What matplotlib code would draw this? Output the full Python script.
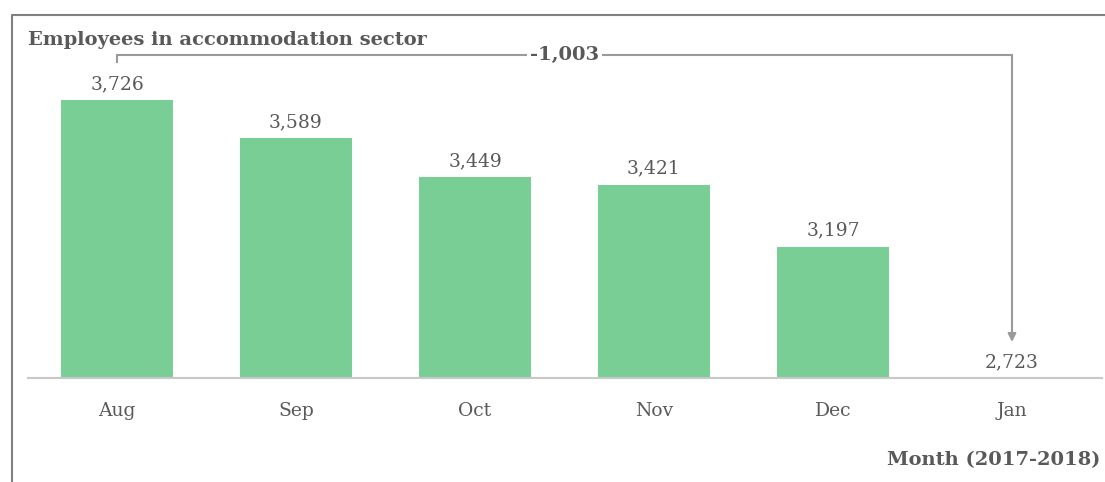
import matplotlib.pyplot as plt
from matplotlib.lines import Line2D

months = ["Aug", "Sep", "Oct", "Nov", "Dec", "Jan"]
employees = [3726, 3589, 3449, 3421, 3197, 2723]
change_label = "-1,003"

bar_col = "#79CE96"
txt_col = "#595959"
line_col = "#9a9a9a"

plt.rcParams["font.family"] = ["DejaVu Serif"]

fig = plt.figure(figsize=(11.05, 4.82), dpi=100)
ax = fig.add_axes([27.5 / 1105, 104 / 482, 1074 / 1105, 326 / 482])

base = min(employees)
x = list(range(len(months)))
heights = [v - base for v in employees]
ax.bar(x, heights, bottom=base, width=0.625, color=bar_col)
ax.set_xlim(-0.5, len(months) - 0.5)
ax.set_ylim(base, 3900)

for i, v in enumerate(employees):
    ax.annotate(f"{v:,}", (i, v), xytext=(0, 5), textcoords="offset points",
                ha="center", va="bottom", fontsize=13.5, color=txt_col)

for s in ["top", "right", "left"]:
    ax.spines[s].set_visible(False)
ax.spines["bottom"].set_color("#c8c8c8")
ax.spines["bottom"].set_linewidth(1.5)
ax.set_yticks([])
ax.set_xticks(x)
ax.set_xticklabels(months, fontsize=13.5, color=txt_col)
ax.tick_params(axis="x", length=0, pad=17)

# bracket showing the change from first to last month
y_top = 3888
ax.plot([0, 0, len(months) - 1], [3863, y_top, y_top], color=line_col,
        lw=1.5, clip_on=False, solid_joinstyle="miter")
ax.annotate("", xy=(len(months) - 1, 2853), xytext=(len(months) - 1, y_top),
            arrowprops=dict(arrowstyle="-|>", color=line_col, lw=1.5,
                            mutation_scale=12, shrinkA=0, shrinkB=0),
            annotation_clip=False)
ax.text(2.5, y_top, change_label, ha="center", va="center", fontsize=14,
        fontweight="bold", color=txt_col,
        bbox=dict(facecolor="white", edgecolor="none", pad=2))

fig.text(28 / 1105, 1 - 40 / 482, "Employees in accommodation sector",
         ha="left", va="center", fontsize=14, fontweight="bold", color=txt_col)
fig.text(1100 / 1105, 1 - 460 / 482, "Month (2017-2018)", ha="right",
         va="center", fontsize=14, fontweight="bold", color=txt_col)

# frame on the left and top
fig.add_artist(Line2D([11.5 / 1105, 11.5 / 1105, 1.0], [0, 1 - 15 / 482, 1 - 15 / 482],
                      transform=fig.transFigure, color="#808080", lw=1.5))

fig.savefig("out.png", dpi=100)
